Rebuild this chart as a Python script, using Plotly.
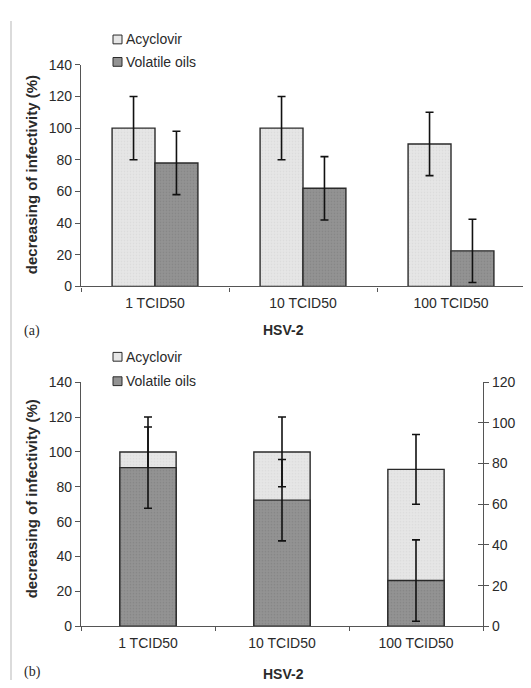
import plotly.graph_objects as go

# the page body adds an 8px margin, so the figure is drawn 8px smaller and
# every pixel position below is given in window coordinates
OFF = 8
W, H = 531 - OFF, 688 - OFF

categories = ["1 TCID50", "10 TCID50", "100 TCID50"]
acyclovir = [100, 100, 90]
acyclovir_err = [20, 20, 20]
volatile_oils = [78, 62, 22.5]
volatile_err = [20, 20, 20]

LIGHT = "#e6e6e6"
DARK = "#939393"
EDGE = "#2a2a2a"
AXIS = "#555"
TXT = "#2a2a2a"
FONT = "Liberation Sans, Arial, sans-serif"


def px(x):
    return (x - OFF) / W


def py(y):
    return 1 - (y - OFF) / H


def err(vals):
    return dict(type="data", array=vals, color="#111", thickness=1.6, width=4)


def bar(name, y, e, color, pat, xa, ya, width, offset):
    return go.Bar(name=name, x=categories, y=y, xaxis=xa, yaxis=ya,
                  width=width, offset=offset, error_y=err(e),
                  marker=dict(color=color, line=dict(color=EDGE, width=1.4),
                              pattern=dict(shape=".", size=3, solidity=0.25,
                                           fgcolor=pat, fgopacity=0.5)),
                  hoverinfo="skip", showlegend=False)


fig = go.Figure()

# panel (a): grouped bars
fig.add_trace(bar("Acyclovir", acyclovir, acyclovir_err, LIGHT, "#cfcfcf",
                  "x", "y", 0.29, -0.29))
fig.add_trace(bar("Volatile oils", volatile_oils, volatile_err, DARK, "#777",
                  "x", "y", 0.29, 0.0))

# panel (b): overlaid bars, volatile oils on the right axis
fig.add_trace(bar("Acyclovir", acyclovir, acyclovir_err, LIGHT, "#cfcfcf",
                  "x2", "y2", 0.42, -0.21))
fig.add_trace(bar("Volatile oils", volatile_oils, volatile_err, DARK, "#777",
                  "x2", "y3", 0.42, -0.21))
# empty trace so the extra tick axis (y4) gets drawn
fig.add_trace(go.Scatter(x=[], y=[], xaxis="x2", yaxis="y4", showlegend=False,
                         hoverinfo="skip"))

xcommon = dict(type="category", range=[-0.5, 2.5], showline=True, linecolor=AXIS,
               linewidth=1.2, ticks="outside", tickson="boundaries", ticklen=4,
               tickcolor=AXIS, showgrid=False, zeroline=False, ticklabelstandoff=4,
               tickfont=dict(size=14, color=TXT, family=FONT), fixedrange=True)
ycommon = dict(range=[0, 140], dtick=20, showline=True, linecolor=AXIS, linewidth=1.2,
               ticks="outside", ticklen=5, tickcolor=AXIS, showgrid=False,
               zeroline=False, tickfont=dict(size=14, color=TXT, family=FONT),
               fixedrange=True)

fig.update_layout(
    width=W, height=H, margin=dict(l=0, r=0, t=0, b=0),
    plot_bgcolor="white", paper_bgcolor="white", barmode="overlay",
    font=dict(family=FONT, color=TXT),
    xaxis=dict(xcommon, domain=[px(81), px(525)], anchor="y"),
    yaxis=dict(ycommon, domain=[py(285), py(58)], anchor="x"),
    xaxis2=dict(xcommon, domain=[px(81), px(483)], anchor="y2"),
    yaxis2=dict(ycommon, domain=[py(633), py(383)], anchor="x2"),
    yaxis3=dict(ycommon, range=[0, 120], overlaying="y2", side="right", anchor="x2"),
    # inner half of the right-hand ticks, so they cross the axis line
    yaxis4=dict(ycommon, range=[0, 120], overlaying="y2", side="right", anchor="x2",
                ticks="inside", showticklabels=False, showline=False),
    showlegend=False,
)

# page frame line on the left
fig.add_shape(type="line", xref="paper", yref="paper", x0=px(11), x1=px(11),
              y0=py(13), y1=0, line=dict(color="#cfcfcf", width=1.5))

# legends drawn by hand (small boxes + labels)
for top, step in ((32, 23), (357, 25)):
    for i, (name, color) in enumerate((("Acyclovir", LIGHT), ("Volatile oils", DARK))):
        yc = top + i * step
        fig.add_shape(type="rect", xref="paper", yref="paper",
                      x0=px(113), x1=px(122), y0=py(yc + 4.5), y1=py(yc - 4.5),
                      fillcolor=color, line=dict(color=EDGE, width=1))
        fig.add_annotation(xref="paper", yref="paper", x=px(124), y=py(yc),
                           xanchor="left", yanchor="middle", text=name,
                           showarrow=False, font=dict(size=14, color=TXT))

# axis titles and panel labels
for yc, hsv_y, lab, lab_y in ((171, 330, "(a)", 331), (503, 682, "(b)", 680)):
    fig.add_annotation(xref="paper", yref="paper", x=px(31), y=py(yc),
                       xanchor="center", yanchor="middle",
                       text="<b>decreasing of infectivity (%)</b>", textangle=-90,
                       showarrow=False, font=dict(size=15, color=TXT))
    fig.add_annotation(xref="paper", yref="paper", x=px(283), y=py(hsv_y),
                       xanchor="center", yanchor="middle",
                       text="<b>HSV-2</b>", showarrow=False,
                       font=dict(size=14, color=TXT))
    fig.add_annotation(xref="paper", yref="paper", x=px(32), y=py(lab_y),
                       xanchor="center", yanchor="middle", text=lab, showarrow=False,
                       font=dict(size=14, color=TXT, family="Liberation Serif, serif"))

fig.write_html("out.html")
